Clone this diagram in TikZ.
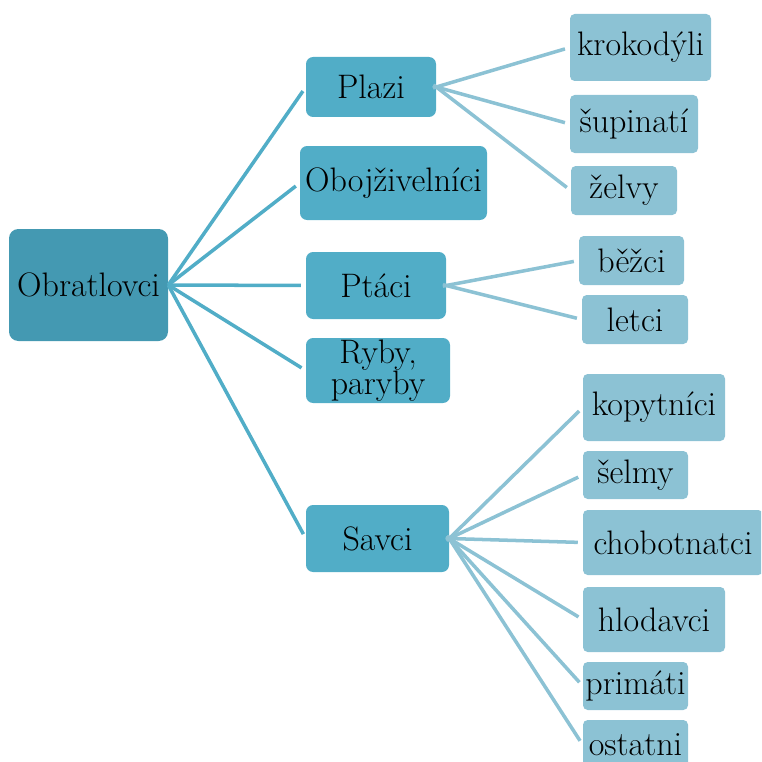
\documentclass[tikz,border=0pt]{standalone}
\usepackage{fontspec}

\definecolor{rootblue}{HTML}{4499B2}
\definecolor{midblue}{HTML}{51ADC7}
\definecolor{leafblue}{HTML}{8CC2D4}

\begin{document}
\begin{tikzpicture}[x=0.03cm, y=-0.03cm]
    \tikzset{
        boxsize/.style 2 args={
            minimum width=#1*0.03cm,
            minimum height=#2*0.03cm,
        },
        box/.style={
            inner sep=0pt,
            align=center,
            font=\fontsize{29}{21}\selectfont,
        },
        rootbox/.style={box, fill=rootblue, rounded corners=8pt},
        midbox/.style={box, fill=midblue, rounded corners=6pt},
        leafbox/.style={box, fill=leafblue, rounded corners=4pt},
        midline/.style={draw=midblue, line width=3pt, shorten >=0.15cm},
        leafline/.style={draw=leafblue, line width=3pt, shorten >=0.15cm, shorten <=-0.1cm},
    }

    \useasboundingbox (0,0) rectangle (761,762);
    \clip (0,0) rectangle (761,762);

    % Root
    \node[rootbox, boxsize={159}{112}] (obratlovci) at (88.5,285) {Obratlovci};

    % Classes
    \node[midbox, boxsize={130}{60}] (plazi) at (371,87) {Plazi};
    \node[midbox, boxsize={187}{74}] (obojzivelnici) at (393.5,183) {Obojživelníci};
    \node[midbox, boxsize={140}{67}] (ptaci) at (376,285.5) {Ptáci};
    \node[midbox, boxsize={144}{65}] (ryby) at (378,370.5) {Ryby,\\paryby};
    \node[midbox, boxsize={143}{67}] (savci) at (377.5,538.5) {Savci};

    % Groups
    \node[leafbox, boxsize={141}{67}] (krokodyli) at (640.5,47.5) {krokodýli};
    \node[leafbox, boxsize={128}{58}] (supinati) at (634,124) {šupinatí};
    \node[leafbox, boxsize={106}{49}] (zelvy) at (624,190.5) {želvy};
    \node[leafbox, boxsize={105}{49}] (bezci) at (631.5,260.5) {běžci};
    \node[leafbox, boxsize={106}{49}] (letci) at (635,319.5) {letci};
    \node[leafbox, boxsize={142}{67}] (kopytnici) at (654,407.5) {kopytníci};
    \node[leafbox, boxsize={105}{48}] (selmy) at (635.5,475) {šelmy};
    \node[leafbox, boxsize={180}{65}] (chobotnatci) at (673,542.5) {chobotnatci};
    \node[leafbox, boxsize={142}{65}] (hlodavci) at (654,619.5) {hlodavci};
    \node[leafbox, boxsize={105}{48}] (primati) at (635.5,686) {primáti};
    \node[leafbox, boxsize={105}{50}] (ostatni) at (635.5,745) {ostatni};

    % Connections
    \foreach \child in {plazi, obojzivelnici, ptaci, ryby, savci}
        \draw[midline] (obratlovci.east) -- (\child.west);
    \foreach \child in {krokodyli, supinati, zelvy}
        \draw[leafline] (plazi.east) -- (\child.west);
    \foreach \child in {bezci, letci}
        \draw[leafline] (ptaci.east) -- (\child.west);
    \foreach \child in {kopytnici, selmy, chobotnatci, hlodavci, primati, ostatni}
        \draw[leafline] (savci.east) -- (\child.west);
\end{tikzpicture}
\end{document}
